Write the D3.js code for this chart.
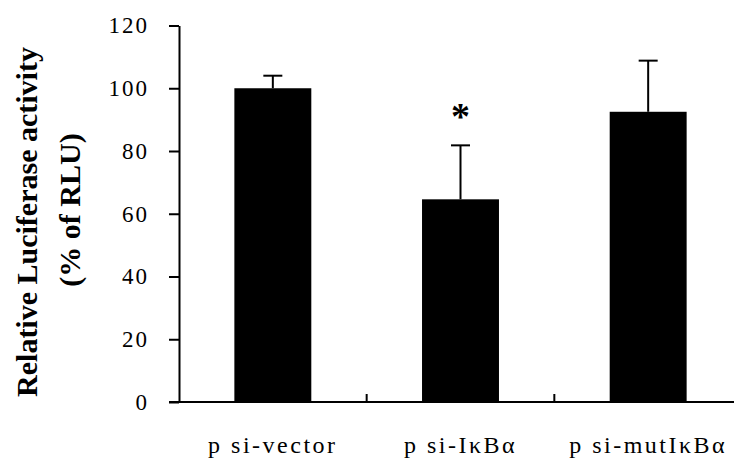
<!DOCTYPE html>
<html>
<head>
<meta charset="utf-8">
<script src="https://cdn.jsdelivr.net/npm/d3@7"></script>
<style>
  html, body { margin: 0; padding: 0; background: #fff; }
  svg { display: block; }
</style>
</head>
<body>
<script>
const categories = ["p si-vector", "p si-IκBα", "p si-mutIκBα"];
const values = [100, 64.6, 92.5];
const errors = [4, 17.2, 16.3];
const significance = ["", "*", ""];
const yTicks = [0, 20, 40, 60, 80, 100, 120];
const yTitleLines = ["Relative Luciferase activity", "(% of RLU)"];

const W = 734, H = 465;
const svg = d3.select("body").append("svg").attr("width", W).attr("height", H);

const x = d3.scaleBand().domain(categories).range([179, 742]).padding(0);
const y = d3.scaleLinear().domain([0, 120]).range([402, 25.5]);
const barFrac = 0.41;
const bw = x.bandwidth() * barFrac;
const bx = c => x(c) + (x.bandwidth() - bw) / 2;
const cx = c => x(c) + x.bandwidth() / 2;

// bars
svg.append("g").selectAll("rect").data(categories).join("rect")
  .attr("x", c => bx(c))
  .attr("y", (c, i) => y(values[i]))
  .attr("width", bw)
  .attr("height", (c, i) => y(0) - y(values[i]))
  .attr("fill", "#000");

// error bars
const eb = svg.append("g").attr("stroke", "#000").attr("stroke-width", 2);
categories.forEach((c, i) => {
  eb.append("line").attr("x1", cx(c)).attr("x2", cx(c))
    .attr("y1", y(values[i])).attr("y2", y(values[i] + errors[i]));
  eb.append("line").attr("x1", cx(c) - 9.5).attr("x2", cx(c) + 9.5)
    .attr("y1", y(values[i] + errors[i])).attr("y2", y(values[i] + errors[i]));
});

// significance
svg.append("g").selectAll("text").data(categories).join("text")
  .attr("x", c => cx(c))
  .attr("y", (c, i) => y(values[i] + errors[i]) - 16)
  .attr("text-anchor", "middle")
  .attr("font-family", "Liberation Serif")
  .attr("font-weight", "bold")
  .attr("font-size", 38)
  .text((c, i) => significance[i]);

// y axis
const yAxis = svg.append("g").attr("transform", "translate(179,0)")
  .call(d3.axisLeft(y).tickValues(yTicks).tickSize(10).tickSizeOuter(0).tickPadding(20));
yAxis.select(".domain").attr("stroke-width", 2);
yAxis.selectAll(".tick line").attr("stroke-width", 2);
yAxis.selectAll(".tick text")
  .attr("font-family", "Liberation Serif")
  .attr("font-size", 23)
  .attr("letter-spacing", "2px")
  .attr("fill", "#000");

// x axis
const xAxis = svg.append("g").attr("transform", "translate(0,402)")
  .call(d3.axisBottom(x).tickSize(0).tickPadding(0));
xAxis.select(".domain").remove();
xAxis.append("line").attr("x1", 169).attr("x2", W).attr("y1", 0).attr("y2", 0)
  .attr("stroke", "#000").attr("stroke-width", 2);
xAxis.selectAll(".bnd").data(categories.slice(1)).join("line")
  .attr("class", "bnd")
  .attr("x1", c => x(c)).attr("x2", c => x(c))
  .attr("y1", 0).attr("y2", -8)
  .attr("stroke", "#000").attr("stroke-width", 2);
xAxis.selectAll(".tick text")
  .attr("y", 51).attr("dy", 0)
  .attr("font-family", "Liberation Serif")
  .attr("font-size", 24)
  .attr("letter-spacing", "2.5px")
  .attr("fill", "#000");

// y title
const yt = svg.append("g")
  .attr("font-family", "Liberation Serif")
  .attr("font-weight", "bold")
  .attr("font-size", 30)
  .attr("text-anchor", "middle");
yt.append("text").attr("transform", "translate(37,222) rotate(-90)").text(yTitleLines[0]);
yt.append("text").attr("transform", "translate(80,210) rotate(-90)").text(yTitleLines[1]);
</script>
</body>
</html>
